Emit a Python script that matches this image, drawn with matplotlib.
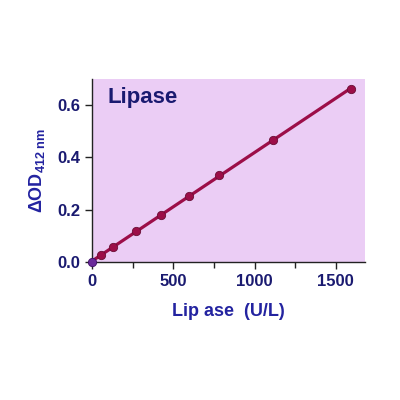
import numpy as np
import matplotlib
matplotlib.use('Agg')
import matplotlib.pyplot as plt
from matplotlib.ticker import MultipleLocator

plt.rcParams['font.family'] = ['Liberation Sans', 'DejaVu Sans']
plt.rcParams['mathtext.fontset'] = 'custom'
plt.rcParams['mathtext.rm'] = 'Liberation Sans:bold'
plt.rcParams['mathtext.it'] = 'Liberation Sans:bold'
plt.rcParams['mathtext.bf'] = 'Liberation Sans:bold'

# lipase standard curve
lipase = [0, 55, 127, 271, 424, 599, 783, 1115, 1591]
delta_od = [0.0, 0.027, 0.057, 0.117, 0.178, 0.254, 0.331, 0.467, 0.662]

xticks = [0, 500, 1000, 1500]
yticks = [0.0, 0.2, 0.4, 0.6]

navy = '#1a1a70'
blue = '#2323a0'
red = '#9c0e48'
pink = '#ebcdf5'

fig = plt.figure(figsize=(4, 4), dpi=100)
ax = fig.add_axes([0.23, 0.345, 0.6825, 0.4575])
ax.set_facecolor(pink)

# linear fit through the standards
k, b = np.polyfit(lipase, delta_od, 1)
xs = np.array([lipase[0], lipase[-1]])
ax.plot(xs, k * xs + b, color=red, lw=2.3, zorder=2)
ax.scatter(lipase[1:], delta_od[1:], s=36, color=red, edgecolor='#6a0e36', lw=0.6, zorder=3)
ax.scatter(lipase[:1], delta_od[:1], s=36, color='#6a2a9a', edgecolor='#40106a', lw=0.6, zorder=3, clip_on=False)

ax.set_xlim(0, 1680)
ax.set_ylim(0, 0.70)
ax.set_xticks(xticks)
ax.set_yticks(yticks)
ax.set_yticklabels(['%.1f' % v for v in yticks])
ax.xaxis.set_minor_locator(MultipleLocator(250))

for s in ['top', 'right']:
    ax.spines[s].set_visible(False)
for s in ['left', 'bottom']:
    ax.spines[s].set_color('#222222')
    ax.spines[s].set_linewidth(1)

ax.tick_params(which='both', direction='out', colors='#222222', width=1)
ax.tick_params(which='major', length=5, labelsize=12, labelcolor=navy)
ax.tick_params(which='minor', length=4)
for lab in ax.get_xticklabels() + ax.get_yticklabels():
    lab.set_fontweight('bold')

ax.set_xlabel('Lip ase  (U/L)', fontsize=13, fontweight='bold', color=blue, labelpad=10)
ax.set_ylabel(r'$\Delta$OD$_{412\ \mathrm{nm}}$', fontsize=13, fontweight='bold', color=blue, labelpad=7)
ax.text(0.055, 0.87, 'Lipase', transform=ax.transAxes, fontsize=16, fontweight='bold', color=navy)

fig.savefig('out.png', dpi=100)
